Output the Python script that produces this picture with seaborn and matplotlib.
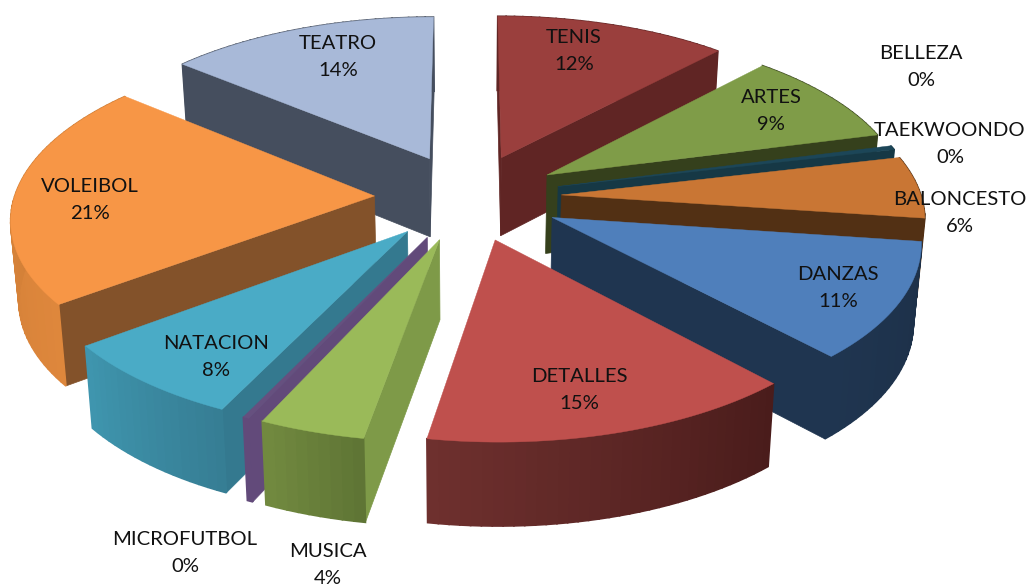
import numpy as np
import matplotlib
matplotlib.use("Agg")
import matplotlib.pyplot as plt
import matplotlib.colors as mc
import seaborn as sns

# ---- data ----
categories = ["TENIS", "BELLEZA", "ARTES", "TAEKWOONDO", "BALONCESTO", "DANZAS",
              "DETALLES", "MUSICA", "MICROFUTBOL", "NATACION", "VOLEIBOL", "TEATRO"]
values = [11.9, 0, 9, 0.4, 5.9, 11, 14.55, 4.1, 0.24, 7.6, 21.45, 13.9]

# ---- style ----
top_colors = ["#9A3F3D", "#8064A2", "#7F9C48", "#1C4658", "#C97634", "#4F7FBB",
              "#BF504D", "#9ABA59", "#66507F", "#4AABC6", "#F79646", "#A8B9D8"]
wall_colors = ["#602524", "#4A3A60", "#35401C", "#163845", "#523014", "#1F3550",
               "#6B2E2C", "#7E9A48", "#624A7A", "#34798F", "#83522A", "#454E5E"]
arc_from = ["#602524", "#4A3A60", "#35401C", "#163845", "#523014", "#1F3550",
            "#6E302E", "#71893F", "#624A7A", "#3F95AE", "#DE873C", "#454E5E"]
arc_to = ["#602524", "#4A3A60", "#35401C", "#163845", "#523014", "#1D3048",
          "#4A1C1B", "#5F7535", "#624A7A", "#367E94", "#C97A34", "#454E5E"]
label_xy = {"TENIS": (574, 51), "BELLEZA": (921, 67), "ARTES": (771, 111),
            "TAEKWOONDO": (950, 144), "BALONCESTO": (960, 213), "DANZAS": (838, 288),
            "DETALLES": (579, 390), "MUSICA": (328, 565), "MICROFUTBOL": (185, 553),
            "NATACION": (216, 357), "VOLEIBOL": (90, 200), "TEATRO": (338, 57)}
W, H = 1027, 587
CX, CY, RX, RY, K, EXPLODE, DEPTH = 468, 197, 360, 167, 0.119, 0.26, 79

sns.set_theme(style="white")
plt.rcParams["font.family"] = ["Lato", "DejaVu Sans"]


def project(u, v, z=0.0):
    w = 1 - K * v
    x = CX + RX * u / w * (1 - 0.018 * z)
    y = CY + RY * v / w + z * DEPTH * (1 + 0.05 * v)
    return x, y


def cross(a, b):
    return a[0] * b[1] - a[1] * b[0]


fig = plt.figure(figsize=(W / 100, H / 100), dpi=100)
ax = fig.add_axes([0, 0, 1, 1])
ax.set_xlim(0, W)
ax.set_ylim(H, 0)
ax.axis("off")

fractions = np.array(values, dtype=float) / np.sum(values)
edges = np.concatenate([[0], np.cumsum(fractions)]) * 2 * np.pi
slices = []
for i, name in enumerate(categories):
    a0, a1 = edges[i], edges[i + 1]
    mid = (a0 + a1) / 2
    if values[i] > 0:
        slices.append((-np.cos(mid), i, a0, a1, mid))

for _, i, a0, a1, mid in sorted(slices):
    ox, oy = EXPLODE * np.sin(mid), -EXPLODE * np.cos(mid)
    th = np.linspace(a0, a1, max(int((a1 - a0) * 40), 2))
    us, vs = ox + np.sin(th), oy - np.cos(th)
    apex = project(ox, oy)
    rim_mid = project(ox + np.sin(mid), oy - np.cos(mid))
    # radial walls, only those that face the viewer
    for a in (a0, a1):
        e = (ox + np.sin(a), oy - np.cos(a))
        q = project(*e)
        edge = (q[0] - apex[0], q[1] - apex[1])
        inside = (rim_mid[0] - apex[0], rim_mid[1] - apex[1])
        if cross(edge, inside) * cross(edge, (0, 1)) < 0:
            pts = [apex, q, project(*e, 1), project(ox, oy, 1)]
            ax.fill(*zip(*pts), color=wall_colors[i], lw=0.5)
    # curved outer wall, shaded piece by piece
    c0, c1 = np.array(mc.to_rgb(arc_from[i])), np.array(mc.to_rgb(arc_to[i]))
    n = len(th) - 1
    for j in range(n):
        t = j / max(n - 1, 1)
        # walls run clockwise, so the right-hand end of front slices gets the c1 shade
        col = c1 + (c0 - c1) * t if np.cos(mid) < 0 else c0 + (c1 - c0) * t
        pts = [project(us[j], vs[j]), project(us[j + 1], vs[j + 1]),
               project(us[j + 1], vs[j + 1], 1), project(us[j], vs[j], 1)]
        ax.fill(*zip(*pts), color=col, lw=1.2)
    # top face
    pts = [apex] + [project(a, b) for a, b in zip(us, vs)]
    ax.fill(*zip(*pts), color=top_colors[i], lw=0.3)

for i, name in enumerate(categories):
    x, y = label_xy[name]
    ax.text(x, y, f"{name}\n{round(fractions[i] * 100)}%", ha="center", va="center",
            fontsize=14.6, color="#111111", linespacing=1.65)

fig.savefig("out.png", dpi=100, facecolor="white")
